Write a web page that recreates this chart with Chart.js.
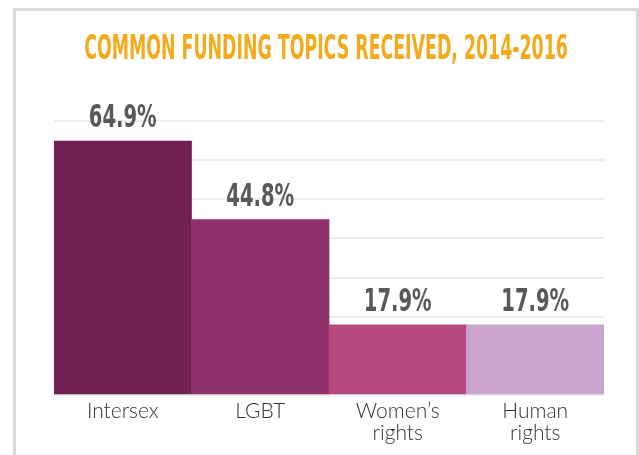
<!DOCTYPE html>
<html>
<head>
<meta charset="utf-8">
<script src="https://cdn.jsdelivr.net/npm/chart.js@4.4.1/dist/chart.umd.min.js"></script>
<style>
  html, body { margin: 0; padding: 0; background: #fff; overflow: hidden; }
  #frame {
    position: absolute; left: 13px; top: 8px; width: 626px; height: 460px;
    box-sizing: border-box; border: 3px solid #d9d9d9; border-bottom: none;
  }
  #chart { display: block; }
</style>
</head>
<body>
<div id="frame"><canvas id="chart" width="620" height="449"></canvas></div>
<script>
const title = 'COMMON FUNDING TOPICS RECEIVED, 2014-2016';
const categories = [['Intersex'], ['LGBT'], ['Women\u2019s', 'rights'], ['Human', 'rights']];
const shares = [64.9, 44.8, 17.9, 17.9];
const yMax = 70;
const yStep = 10;
const barColors = ['#722051', '#8f316b', '#b6487d', '#c9a5cd'];

const condensed = '"Liberation Sans Narrow", "DejaVu Sans Condensed", sans-serif';

// draw condensed text by squeezing horizontally
function squeezed(ctx, text, x, y, sx) {
  ctx.save();
  ctx.translate(x, y);
  ctx.scale(sx, 1);
  ctx.fillText(text, 0, 0);
  ctx.restore();
}

const headline = {
  id: 'headline',
  afterDraw(chart) {
    const ctx = chart.ctx;
    ctx.save();
    ctx.font = 'bold 33px ' + condensed;
    ctx.fillStyle = '#f5aa1c';
    ctx.textAlign = 'center';
    ctx.textBaseline = 'alphabetic';
    squeezed(ctx, title, chart.width / 2, 48, 0.585);
    ctx.restore();
  }
};

const valueLabels = {
  id: 'valueLabels',
  afterDatasetsDraw(chart) {
    const ctx = chart.ctx;
    const meta = chart.getDatasetMeta(0);
    ctx.save();
    ctx.font = 'bold 32px ' + condensed;
    ctx.fillStyle = '#58595b';
    ctx.textAlign = 'center';
    ctx.textBaseline = 'alphabetic';
    meta.data.forEach((bar, i) => {
      squeezed(ctx, shares[i].toFixed(1) + '%', bar.x, bar.y - 14, 0.68);
    });
    ctx.restore();
  }
};

new Chart(document.getElementById('chart'), {
  type: 'bar',
  data: {
    labels: categories,
    datasets: [{
      data: shares,
      backgroundColor: barColors,
      borderWidth: 0,
      barPercentage: 1,
      categoryPercentage: 1
    }]
  },
  options: {
    responsive: false,
    animation: false,
    layout: { padding: { left: 38, right: 32, top: 110, bottom: 0 } },
    plugins: { legend: { display: false }, tooltip: { enabled: false } },
    scales: {
      x: {
        grid: { display: false, drawTicks: false, tickLength: 0 },
        border: { display: false },
        ticks: {
          color: '#333333',
          padding: 5,
          maxRotation: 0,
          font: { family: 'Lato', weight: 300, size: 21, lineHeight: 1.05 }
        },
        afterFit(scale) { scale.height = 449 - 384; }
      },
      y: {
        min: 0,
        max: yMax,
        border: { display: false },
        grid: { color: '#ececec', lineWidth: 2, drawTicks: false },
        ticks: { display: false, stepSize: yStep },
        afterFit(scale) { scale.width = 0; }
      }
    }
  },
  plugins: [headline, valueLabels]
});
</script>
</body>
</html>
